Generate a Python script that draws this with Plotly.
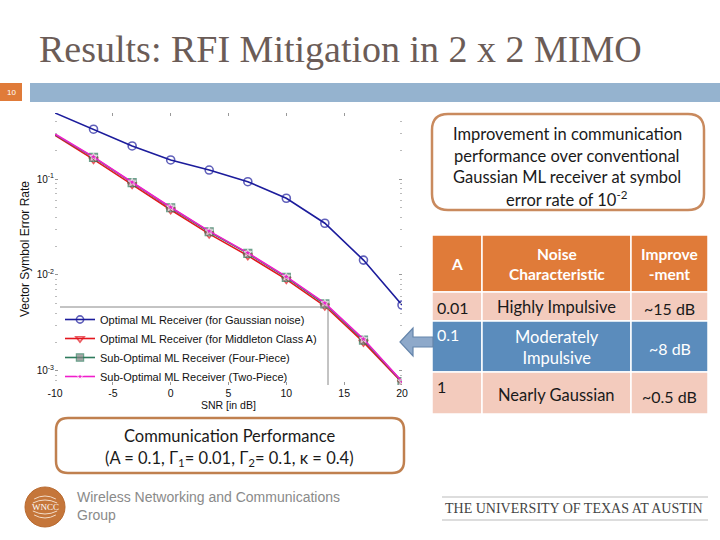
import plotly.graph_objects as go
import math

# ---------------- data ----------------
snr_db = [-10, -6.67, -3.33, 0, 3.33, 6.67, 10, 13.33, 16.67, 20]
ser_gaussian_ml = [0.487, 0.330, 0.221, 0.158, 0.124, 0.0937, 0.063, 0.0346, 0.0143, 0.00487]
ser_middleton_ml = [0.285, 0.160, 0.0875, 0.0478, 0.0268, 0.0159, 0.0090, 0.00475, 0.00200, 0.00076]
ser_four_piece = [0.290, 0.168, 0.0915, 0.0502, 0.0282, 0.0168, 0.00946, 0.00499, 0.00210, 0.000775]
ser_two_piece = [0.294, 0.170, 0.0925, 0.0508, 0.0286, 0.0170, 0.0096, 0.0051, 0.00215, 0.00078]
series_names = [
    "Optimal ML Receiver (for Gaussian noise)",
    "Optimal ML Receiver (for Middleton Class A)",
    "Sub-Optimal ML Receiver (Four-Piece)",
    "Sub-Optimal ML Receiver (Two-Piece)",
]
x_ticks = [-10, -5, 0, 5, 10, 15, 20]
x_tick_labels = ["-10", "-5", "0", "5", "10", "15", "20"]
y_ticks = [1e-3, 1e-2, 1e-1]
y_tick_labels = ["10<sup>-3</sup>", "10<sup>-2</sup>", "10<sup>-1</sup>"]

table_header = ["A", "Noise<br>Characteristic", "Improve<br>-ment"]
table_A = ["0.01", "0.1", "1"]
table_noise = ["Highly Impulsive", "Moderately<br>Impulsive", "Nearly Gaussian"]
table_improve = ["~15 dB", "~8 dB", "~0.5 dB"]

W, H = 720, 540


def px(x):
    return x / W


def py(y):
    return 1 - y / H


def rrect(x0, y0, x1, y1, r):
    P = lambda x, y: f"{px(x):.5f},{py(y):.5f}"
    return (f"M {P(x0 + r, y0)} L {P(x1 - r, y0)} Q {P(x1, y0)} {P(x1, y0 + r)} "
            f"L {P(x1, y1 - r)} Q {P(x1, y1)} {P(x1 - r, y1)} L {P(x0 + r, y1)} "
            f"Q {P(x0, y1)} {P(x0, y1 - r)} L {P(x0, y0 + r)} Q {P(x0, y0)} {P(x0 + r, y0)} Z")


def poly(pts):
    return "M " + " L ".join(f"{px(x):.5f},{py(y):.5f}" for x, y in pts) + " Z"


def note(text, x, y, size, color="#1a1a1a", family="Lato", xanchor="center", yanchor="middle", **kw):
    return dict(text=text, x=px(x), y=py(y), xref="paper", yref="paper", xanchor=xanchor,
                yanchor=yanchor, showarrow=False, font=dict(family=family, size=size, color=color), **kw)


msize = lambda s: [0] + [s] * (len(snr_db) - 1)

fig = go.Figure()
fig.add_trace(go.Scatter(
    x=snr_db, y=ser_gaussian_ml, name=series_names[0], mode="lines+markers",
    line=dict(color="#1C1C9C", width=1.6),
    marker=dict(symbol="circle-open", size=msize(8), color="#1C1C9C", line=dict(width=1.6))))
fig.add_trace(go.Scatter(
    x=snr_db, y=ser_middleton_ml, name=series_names[1], mode="lines+markers",
    line=dict(color="#E3161E", width=1.6),
    marker=dict(symbol="triangle-down-open", size=msize(8), color="#E3161E", line=dict(width=1.6))))
fig.add_trace(go.Scatter(
    x=snr_db, y=ser_four_piece, name=series_names[2], mode="lines+markers",
    line=dict(color="#2E7B5C", width=1.6),
    marker=dict(symbol="square", size=msize(8), color="#808080", line=dict(color="#2E7B5C", width=1.2))))
fig.add_trace(go.Scatter(
    x=snr_db, y=ser_two_piece, name=series_names[3], mode="lines+markers",
    line=dict(color="#F01ECB", width=1.6),
    marker=dict(symbol="star", size=msize(6), color="#F01ECB")))

minor_vals = [m * 10 ** e for e in (-4, -3, -2, -1) for m in range(2, 10)]

shapes = []
annotations = []

# title bar
shapes.append(dict(type="rect", xref="paper", yref="paper", x0=px(0), x1=px(22), y0=py(101), y1=py(83),
                   fillcolor="#E07B39", line=dict(width=0), layer="below"))
shapes.append(dict(type="rect", xref="paper", yref="paper", x0=px(30), x1=px(720), y0=py(102), y1=py(83),
                   fillcolor="#95B3CF", line=dict(width=0), layer="below"))
annotations.append(note("10", 11, 92, 8, color="white", family="Liberation Sans"))
annotations.append(note("Results: RFI Mitigation in 2 x 2 MIMO", 37, 49, 38, color="#6B5C57",
                        family="Liberation Serif", xanchor="left"))

# legend box edges (top and right)
shapes.append(dict(type="line", xref="paper", yref="paper", x0=px(60), x1=px(328), y0=py(307), y1=py(307),
                   line=dict(color="#888888", width=1)))
shapes.append(dict(type="line", xref="paper", yref="paper", x0=px(328), x1=px(328), y0=py(307), y1=py(385),
                   line=dict(color="#888888", width=1)))

# axis titles
annotations.append(note("Vector Symbol Error Rate", 25, 249, 12, color="#111", family="Liberation Sans",
                        textangle=-90))
annotations.append(note("SNR [in dB]", 228, 405, 10.5, color="#111", family="Liberation Sans"))

# top-right callout
shapes.append(dict(type="path", path=rrect(432, 114, 704, 210, 16), xref="paper", yref="paper",
                   line=dict(color="#C98A5E", width=2.5), fillcolor="white"))
callout_lines = ["Improvement in communication", "performance over conventional",
                 "Gaussian ML receiver at symbol", "error rate of 10<sup>-2</sup>"]
for i, t in enumerate(callout_lines):
    annotations.append(note(t, 567, 134 + 21.5 * i, 16.5))

# table
col_x = [432, 482, 631, 708]
row_y = [235, 292, 321, 372, 414]
row_fill = ["#E07B39", "#F3CBBD", "#5B8CBC", "#F3CBBD"]
for r in range(4):
    for c in range(3):
        shapes.append(dict(type="rect", xref="paper", yref="paper", x0=px(col_x[c]), x1=px(col_x[c + 1]),
                           y0=py(row_y[r + 1]), y1=py(row_y[r]), fillcolor=row_fill[r],
                           line=dict(color="white", width=1.5)))
centers = [(col_x[c] + col_x[c + 1]) / 2 for c in range(3)]
for c in range(3):
    annotations.append(note(f"<b>{table_header[c]}</b>", centers[c], 264, 15.5, color="white"))
row_text_y = [307, 347, 395]
row_A_y = [307, 334, 386]
row_color = ["#1a1a1a", "white", "#1a1a1a"]
for r in range(3):
    annotations.append(note(table_A[r], 435, row_A_y[r], 16, color=row_color[r], xanchor="left"))
    annotations.append(note(table_noise[r], centers[1], row_text_y[r], 16.5, color=row_color[r]))
    annotations.append(note(table_improve[r], centers[2], row_text_y[r] + 1, 16, color=row_color[r]))

# arrow
shapes.append(dict(type="path", xref="paper", yref="paper",
                   path=poly([(400, 342), (413, 328), (413, 337), (433, 337), (433, 347), (413, 347), (413, 356)]),
                   fillcolor="#8EA9CA", line=dict(color="#6585AB", width=1.2)))

# bottom callout
shapes.append(dict(type="path", path=rrect(56, 418, 404, 473, 12), xref="paper", yref="paper",
                   line=dict(color="#C0804F", width=2.5), fillcolor="white"))
annotations.append(note("Communication Performance", 229, 436, 16.5))
annotations.append(note("(A = 0.1, Γ<sub>1</sub>= 0.01, Γ<sub>2</sub>= 0.1, κ = 0.4)", 229, 458, 16.5))

# footer logo
shapes.append(dict(type="circle", xref="paper", yref="paper", x0=px(25), x1=px(65), y0=py(527), y1=py(487),
                   fillcolor="#C5763A", line=dict(color="#B86A30", width=1)))
for dy in (-11, -7, 7, 11):
    yy = 507 + dy
    half = math.sqrt(max(20 ** 2 - dy ** 2, 0)) * 0.65
    bend = -3 if dy < 0 else 3
    shapes.append(dict(type="path", xref="paper", yref="paper",
                       path=f"M {px(45 - half):.5f},{py(yy - bend):.5f} "
                            f"Q {px(45):.5f},{py(yy + bend):.5f} {px(45 + half):.5f},{py(yy - bend):.5f}",
                       line=dict(color="#F3DCC8", width=1)))
annotations.append(note("WNCC", 45, 507, 9, color="white", family="Liberation Serif"))
annotations.append(note("Wireless Networking and Communications<br>Group", 75, 506, 14, color="#8A8A8A",
                        family="Liberation Sans", xanchor="left", align="left"))

# UT footer
shapes.append(dict(type="line", xref="paper", yref="paper", x0=px(442), x1=px(708), y0=py(497), y1=py(497),
                   line=dict(color="#BBBBBB", width=1)))
shapes.append(dict(type="line", xref="paper", yref="paper", x0=px(442), x1=px(708), y0=py(520), y1=py(520),
                   line=dict(color="#BBBBBB", width=1)))
annotations.append(note("THE UNIVERSITY OF TEXAS AT AUSTIN", 574, 508, 14, color="#444444",
                        family="Liberation Serif"))

fig.update_layout(
    width=W, height=H, margin=dict(l=0, r=0, t=0, b=0), autosize=False,
    paper_bgcolor="white", plot_bgcolor="rgba(0,0,0,0)",
    shapes=shapes, annotations=annotations,
    xaxis=dict(domain=[px(55), px(402)], range=[-10, 20], tickvals=x_ticks, ticktext=x_tick_labels,
               ticks="inside", ticklen=3, tickcolor="#999", mirror="ticks", showline=False, zeroline=False,
               showgrid=False, automargin=False,
               tickfont=dict(family="Liberation Sans", size=10.5, color="#111")),
    yaxis=dict(domain=[py(385), py(113)], type="log", range=[-3.146, -0.3125], tickvals=y_ticks,
               ticktext=y_tick_labels, ticks="inside", ticklen=3, tickcolor="#999", mirror="ticks",
               showline=False, zeroline=False, showgrid=False, automargin=False,
               minor=dict(tickmode="array", tickvals=minor_vals, ticks="inside", ticklen=2,
                          tickcolor="#BBB", showgrid=False),
               tickfont=dict(family="Liberation Sans", size=10, color="#111")),
    legend=dict(x=px(60), y=py(391), xanchor="left", yanchor="bottom", bgcolor="rgba(255,255,255,0)",
                borderwidth=0, font=dict(family="Liberation Sans", size=11, color="#111"),
                tracegroupgap=0),
    showlegend=True,
)

fig.write_html("out.html")
